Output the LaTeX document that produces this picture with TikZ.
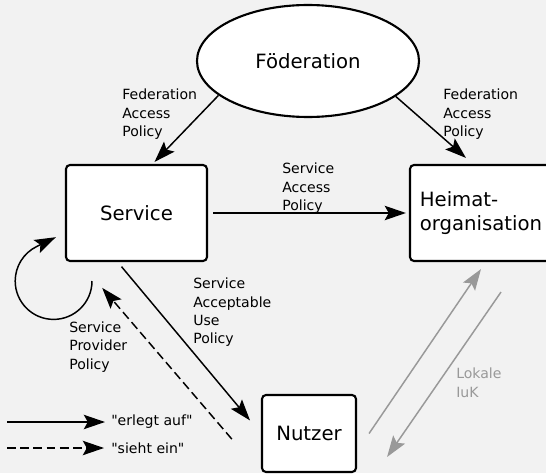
\documentclass[tikz,border=0pt]{standalone}
\usepackage{fontspec}
\newfontfamily\dejavu{DejaVu Sans}
\usetikzlibrary{shapes.geometric, arrows.meta}

\definecolor{hgrund}{HTML}{F2F2F2}
\definecolor{grau}{HTML}{999999}

\tikzstyle{kasten}=[draw, rounded corners=1mm, fill=white, line width=1.5pt, font=\dejavu\fontsize{14}{16.6}\selectfont]
\tikzstyle{oval}=[draw, ellipse, fill=white, line width=1.5pt, minimum width=5.55cm, minimum height=2.8cm, font=\dejavu\fontsize{14}{16.6}\selectfont]
\tikzstyle{klein}=[anchor=north west, inner sep=0pt, align=left, font=\dejavu\fontsize{10}{13}\selectfont]
\tikzstyle{pfeil}=[line width=1.05pt, -{Stealth[length=5.3mm, width=3.6mm, inset=1mm]}]
\tikzstyle{gestrichelt}=[dash pattern=on 2.2mm off 1.1mm]
\tikzstyle{luk pfeil}=[pfeil, color=grau]

\begin{document}
\begin{tikzpicture}
            \path[use as bounding box, fill=hgrund] (0,0) rectangle (13.65,11.825);

            % Knoten
            \node[oval] (foed) at (7.7,10.3) {Föderation};
            \node[kasten, minimum width=3.525cm, minimum height=2.4cm] (svc) at (3.4125,6.5) {Service};
            \node[kasten, align=left, minimum width=3.55cm, minimum height=2.4cm] (heim) at (12.025,6.5) {Heimat-\\organisation};
            \node[kasten, minimum width=2.35cm, minimum height=1.925cm] (nutz) at (7.725,0.9875) {Nutzer};

            % Beschriftungen
            \node[klein] (fap1) at (3.05,9.6) {Federation\\Access\\Policy};
            \node[klein] (fap2) at (11.075,9.6) {Federation\\Access\\Policy};
            \node[klein] (sap) at (7.05,7.75) {Service\\Access\\Policy};
            \node[klein] (saup) at (4.825,4.875) {Service\\Acceptable\\Use\\Policy};
            \node[klein] (spp) at (1.725,3.7875) {Service\\Provider\\Policy};
            \node[klein, text=grau] (luk) at (11.4,2.625) {Lokale\\IuK};

            % Pfeile
            \draw[pfeil] (foed.201) -- ([xshift=4.5mm,yshift=0.5mm]svc.north);
            \draw[pfeil] (foed.338) -- ([xshift=-3.75mm,yshift=1.5mm]heim.north);
            \draw[pfeil, shorten <=1.25mm, shorten >=0.75mm] (svc.east) -- (heim.west);
            \draw[pfeil, shorten <=1.5mm, shorten >=4.25mm] (svc.249) -- (nutz.west);
            \draw[pfeil, gestrichelt, shorten <=11.2mm, shorten >=8.5mm] (nutz.south west) -- (svc.221);
            \coordinate (schleife) at (2.3,4.8);
            \draw[pfeil] (schleife) arc[start angle=0, end angle=-244, radius=9.6mm] -- ++(26:5.3mm);

            % Lokale IuK
            \draw[luk pfeil] ([xshift=3mm]nutz.east) -- ([yshift=-1.75mm]heim.south);
            \draw[luk pfeil] ([xshift=5mm,yshift=-7.5mm]heim.south) -- ([xshift=7.5mm,yshift=-5.875mm]nutz.east);

            % Legende
            \coordinate (leg1a) at (0.175,1.275);
            \coordinate (leg2a) at (0.175,0.625);
            \node[klein, anchor=west] (leg1) at (2.775,1.275) {"erlegt auf"};
            \node[klein, anchor=west] (leg2) at (2.775,0.625) {"sieht ein"};
            \draw[pfeil, shorten >=1.5mm] (leg1a) -- (leg1.west);
            \draw[pfeil, gestrichelt, shorten >=1.75mm] (leg2a) -- (leg2.west);
        \end{tikzpicture}
\end{document}
